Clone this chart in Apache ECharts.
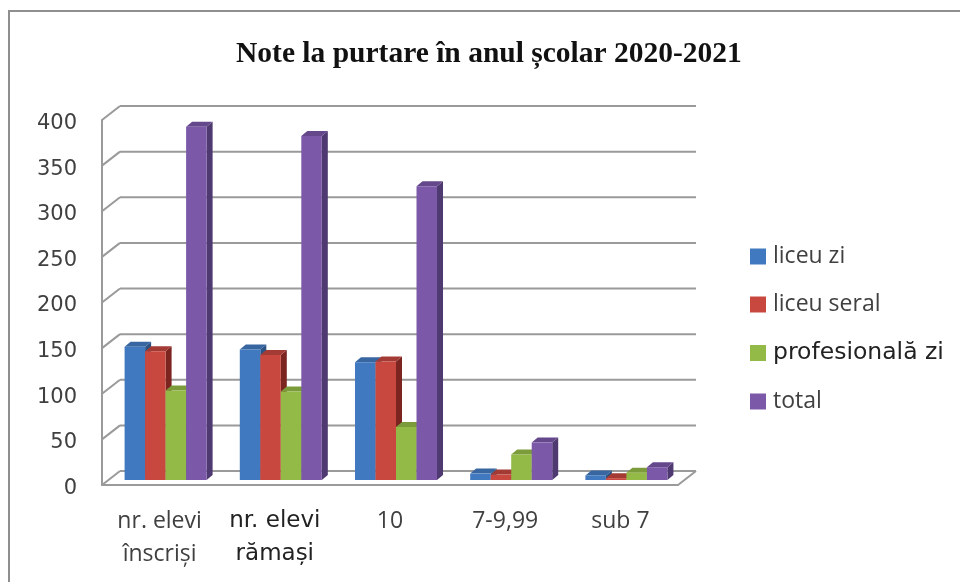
<!DOCTYPE html>
<html>
<head>
<meta charset="utf-8">
<style>
  html, body { margin: 0; padding: 0; background: #fff; }
  #chart { width: 960px; height: 582px; }
</style>
<script src="https://cdn.jsdelivr.net/npm/echarts@6/dist/echarts.min.js"></script>
</head>
<body>
<div id="chart"></div>
<script>
var categories = ['nr. elevi\nînscriși', 'nr. elevi\nrămași', '10', '7-9,99', 'sub 7'];
var yTicks = [0, 50, 100, 150, 200, 250, 300, 350, 400];
var liceuZi = [146, 143, 129, 7, 5];
var liceuSeral = [141, 137, 130, 6, 2];
var profesionala = [98, 97, 58, 28, 8];
var total = [387, 377, 322, 41, 14];

var seriesNames = ['liceu zi', 'liceu seral', 'profesională zi', 'total'];
var seriesValues = [liceuZi, liceuSeral, profesionala, total];
var colors = [
  { front: '#4079bf', side: '#2b5485', top: '#3766a0' },
  { front: '#c8483f', side: '#7c2420', top: '#a33a34' },
  { front: '#93b947', side: '#5f7c2a', top: '#7c9c3b' },
  { front: '#7c58a8', side: '#4e3a70', top: '#65488c' }
];

// depth of the 3d walls and of the bars, in pixels
var wallDx = 18, wallDy = 14;
var barDx = 6, barDy = 5;
var gridLine = '#9a9a9a';

function renderWall (params, api) {
  var y = api.coord([0, api.value(0)])[1];
  var rect = params.coordSys;
  var left = rect.x, right = rect.x + rect.width;
  var style = { stroke: gridLine, lineWidth: 2, fill: null };
  var children = [
    { type: 'line', shape: { x1: left, y1: y, x2: left + wallDx, y2: y - wallDy }, style: style },
    { type: 'line', shape: { x1: left + wallDx, y1: y - wallDy, x2: right + wallDx, y2: y - wallDy }, style: style }
  ];
  if (api.value(0) === 0) {
    children.push({ type: 'line', shape: { x1: right, y1: y, x2: right + wallDx, y2: y - wallDy }, style: style });
  }
  return { type: 'group', children: children };
}

function renderBar (seriesIndex) {
  return function (params, api) {
    var band = api.size([1, 0])[0];
    var w = band * 0.178;
    var base = api.coord([api.value(0), 0]);
    var tip = api.coord([api.value(0), api.value(1)]);
    var x0 = base[0] + barDx - w * 2 + w * seriesIndex;
    var x1 = x0 + w;
    var y0 = base[1] - barDy;
    var y1 = tip[1] - barDy;
    var c = colors[seriesIndex];
    return {
      type: 'group',
      children: [
        {
          type: 'polygon',
          shape: { points: [[x1, y0], [x1 + barDx, y0 - barDy], [x1 + barDx, y1 - barDy], [x1, y1]] },
          style: { fill: c.side }
        },
        {
          type: 'polygon',
          shape: { points: [[x0, y1], [x1, y1], [x1 + barDx, y1 - barDy], [x0 + barDx, y1 - barDy]] },
          style: { fill: c.top }
        },
        {
          type: 'rect',
          shape: { x: x0, y: y1, width: w, height: y0 - y1 },
          style: { fill: c.front }
        }
      ]
    };
  };
}

var series = [{
  name: 'walls',
  type: 'custom',
  renderItem: renderWall,
  encode: { y: 0 },
  data: yTicks,
  silent: true,
  z: 1
}];
seriesNames.forEach(function (name, s) {
  series.push({
    name: name,
    type: 'custom',
    renderItem: renderBar(s),
    encode: { x: 0, y: 1 },
    itemStyle: { color: colors[s].front },
    data: seriesValues[s].map(function (v, i) { return [i, v]; }),
    z: 2 + s
  });
});

var chart = echarts.init(document.getElementById('chart'), null, { renderer: 'canvas' });
chart.setOption({
  animation: false,
  backgroundColor: '#fff',
  title: {
    text: 'Note la purtare în anul școlar 2020-2021',
    left: 231,
    top: 34,
    textStyle: { fontFamily: 'Liberation Serif', fontWeight: 'bold', fontSize: 29.5, color: '#111' }
  },
  graphic: [{
    type: 'polyline',
    shape: { points: [[9, 582], [9, 11], [960, 11]] },
    style: { fill: null, stroke: '#8f8f8f', lineWidth: 2 },
    silent: true
  }],
  grid: { left: 102, top: 120, width: 576, height: 365, containLabel: false },
  legend: {
    orient: 'vertical',
    left: 750,
    top: 245,
    padding: 0,
    itemWidth: 16,
    itemHeight: 16,
    itemGap: 25,
    icon: 'rect',
    data: seriesNames,
    formatter: function (name) {
      return name === 'profesională zi' ? '{b|' + name + '}' : '{a|' + name + '}';
    },
    textStyle: {
      padding: [0, 0, 0, 2],
      rich: {
        a: { fontFamily: 'Open Sans', fontSize: 23, lineHeight: 16, color: '#404040' },
        b: { fontFamily: 'DejaVu Sans', fontSize: 23.5, lineHeight: 16, color: '#222' }
      }
    }
  },
  xAxis: {
    type: 'category',
    data: categories,
    axisTick: { show: false },
    axisLine: { lineStyle: { color: gridLine, width: 2 } },
    axisLabel: {
      margin: 20,
      interval: 0,
      formatter: function (v, i) {
        var lines = v.split('\n');
        var key = i === 1 ? 'b' : 'a';
        return lines.map(function (l) { return '{' + key + '|' + l + '}'; }).join('\n');
      },
      rich: {
        a: { fontFamily: 'Open Sans', fontSize: 23, lineHeight: 33, color: '#404040' },
        b: { fontFamily: 'DejaVu Sans', fontSize: 23, lineHeight: 33, color: '#222' }
      }
    }
  },
  yAxis: {
    type: 'value',
    min: 0,
    max: 400,
    interval: 50,
    axisTick: { show: false },
    splitLine: { show: false },
    axisLine: { show: true, lineStyle: { color: gridLine, width: 2 } },
    axisLabel: {
      margin: 25,
      formatter: '{t|{value}}',
      rich: {
        t: { padding: [7, 0, 0, 0], fontFamily: 'DejaVu Sans', fontSize: 21, color: '#404040' }
      }
    }
  },
  series: series
});
</script>
</body>
</html>
